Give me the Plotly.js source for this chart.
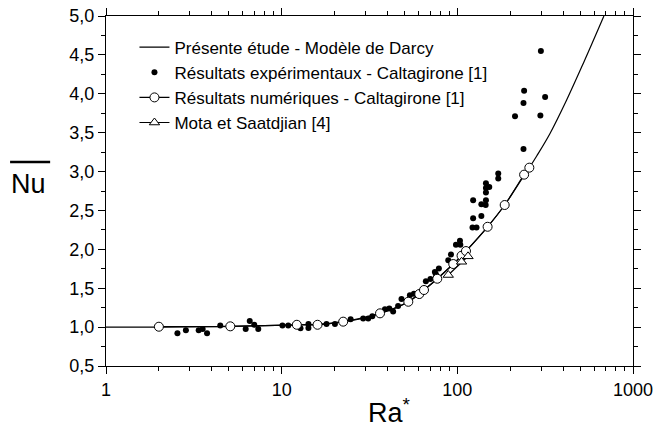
<!DOCTYPE html>
<html>
<head>
<meta charset="utf-8">
<script src="https://cdn.plot.ly/plotly-3.0.1.min.js"></script>
<style>body{margin:0;padding:0;background:#fff;} #chart{width:656px;height:428px;}</style>
</head>
<body>
<div id="chart"></div>
<script>
// Darcy model curve
const modelRa = [1, 2, 5.1, 12.2, 16, 22.4, 30, 36.3, 45, 52.6, 64.6, 76.9, 94.8, 112, 148.7, 186, 213, 240, 257, 283, 337, 419, 521, 683];
const modelNu = [1.0, 1.0, 1.01, 1.03, 1.035, 1.07, 1.12, 1.177, 1.25, 1.326, 1.477, 1.622, 1.811, 1.978, 2.29, 2.57, 2.77, 2.95, 3.05, 3.2, 3.49, 3.92, 4.39, 5.0];

// Experimental results - Caltagirone [1]
const expRa = [2.55, 2.85, 3.37, 3.55, 3.76, 4.47, 6.24, 6.58, 6.98, 7.36, 10.1, 10.9, 12.8, 14.2, 14.2, 18.0, 20.1, 24.7, 29.1, 31.1, 32.8, 38.7, 41, 43.1, 46, 48.1, 53.7, 56.6, 66.2, 70.3, 74.5, 75.5, 78.5, 88.8, 92, 98.2, 103.5, 104, 122, 128.6, 123, 137, 137, 145, 123, 145.5, 145.5, 145.5, 152, 145.5, 171, 171, 238, 213, 297, 238, 316, 240, 299];
const expNu = [0.92, 0.96, 0.96, 0.975, 0.92, 1.02, 0.975, 1.08, 1.03, 0.975, 1.02, 1.02, 0.985, 1.04, 0.99, 1.04, 1.04, 1.10, 1.11, 1.11, 1.14, 1.23, 1.24, 1.20, 1.27, 1.36, 1.41, 1.43, 1.59, 1.62, 1.71, 1.68, 1.755, 1.86, 1.935, 2.06, 2.11, 2.06, 2.28, 2.28, 2.40, 2.43, 2.58, 2.57, 2.63, 2.63, 2.73, 2.79, 2.80, 2.85, 2.91, 2.976, 3.29, 3.71, 3.72, 3.88, 3.96, 4.04, 4.55];

// Numerical results - Caltagirone [1]
const numRa = [2, 5.1, 12.2, 16, 22.4, 36.3, 52.6, 60.7, 64.6, 76.9, 94.8, 105.7, 112, 148.7, 186, 240, 257];
const numNu = [1.005, 1.01, 1.03, 1.03, 1.07, 1.177, 1.326, 1.425, 1.477, 1.622, 1.811, 1.918, 1.978, 2.29, 2.57, 2.96, 3.05];

// Mota et Saatdjian [4]
const motaRa = [88.8, 105.7, 115];
const motaNu = [1.67, 1.84, 1.91];

// Tick labels
const xTickVals = [1, 10, 100, 1000];
const xTickText = ['1', '10', '100', '1000'];
const xMinor = [2,3,4,5,6,7,8,9,20,30,40,50,60,70,80,90,200,300,400,500,600,700,800,900];

const seriesNames = [
  'Présente étude - Modèle de Darcy',
  'Résultats expérimentaux - Caltagirone [1]',
  'Résultats numériques - Caltagirone [1]',
  'Mota et Saatdjian [4]'
];

const FONT = 'Liberation Sans, Arial, sans-serif';

const traces = [
  {x: modelRa, y: modelNu, name: seriesNames[0], mode: 'lines', type: 'scatter',
   line: {color: '#000', width: 1.2, shape: 'spline'}},
  {x: expRa, y: expNu, name: seriesNames[1], mode: 'markers', type: 'scatter',
   marker: {color: '#000', size: 6, symbol: 'circle'}},
  {x: numRa, y: numNu, name: seriesNames[2], mode: 'lines+markers', type: 'scatter',
   line: {color: '#000', width: 1.2, shape: 'spline'},
   marker: {color: '#fff', size: 9, symbol: 'circle', line: {color: '#000', width: 1}}},
  {x: motaRa, y: motaNu, name: seriesNames[3], mode: 'lines+markers', type: 'scatter',
   line: {color: '#000', width: 1.2},
   marker: {color: '#fff', size: 9, symbol: 'triangle-up', line: {color: '#000', width: 1}}}
];

const axisCommon = {
  showline: true, linecolor: '#000', linewidth: 1, mirror: 'ticks',
  ticks: 'outside', ticklen: 7, tickwidth: 1, tickcolor: '#000',
  showgrid: false, zeroline: false,
  tickfont: {family: FONT, size: 18, color: '#000'}
};

const layout = {
  width: 656, height: 428,
  margin: {l: 106, r: 23, t: 16, b: 62},
  paper_bgcolor: '#fff', plot_bgcolor: '#fff',
  separators: ', ',
  font: {family: FONT, color: '#000'},
  showlegend: true,
  legend: {x: 0.054, y: 0.961, xanchor: 'left', yanchor: 'top', bgcolor: 'rgba(0,0,0,0)',
           font: {family: FONT, size: 17, color: '#000'}, tracegroupgap: 0},
  xaxis: Object.assign({}, axisCommon, {
    type: 'log', range: [0, 3], tickmode: 'array', tickvals: xTickVals, ticktext: xTickText,
    minor: {tickmode: 'array', tickvals: xMinor, ticks: 'outside', ticklen: 4, tickcolor: '#000', showgrid: false}
  }),
  yaxis: Object.assign({}, axisCommon, {
    range: [0.5, 5.0], dtick: 0.5, tick0: 0.5, tickformat: '.1f',
    minor: {dtick: 0.25, ticks: 'outside', ticklen: 4, tickcolor: '#000', showgrid: false}
  }),
  annotations: [
    {text: 'Nu', xref: 'paper', yref: 'paper', x: -0.148, y: 0.52, xanchor: 'center', yanchor: 'middle',
     showarrow: false, font: {family: FONT, size: 27, color: '#000'}},
    {text: 'Ra<sup>*</sup>', xref: 'paper', yref: 'paper', x: 0.4934, y: -0.129, xanchor: 'left', yanchor: 'middle',
     showarrow: false, font: {family: FONT, size: 27, color: '#000'}}
  ],
  shapes: [
    {type: 'line', xref: 'paper', yref: 'paper', x0: -0.182, x1: -0.106, y0: 0.583, y1: 0.583,
     line: {color: '#000', width: 2.5}}
  ]
};

Plotly.newPlot('chart', traces, layout, {displayModeBar: false, staticPlot: true});
</script>
</body>
</html>
